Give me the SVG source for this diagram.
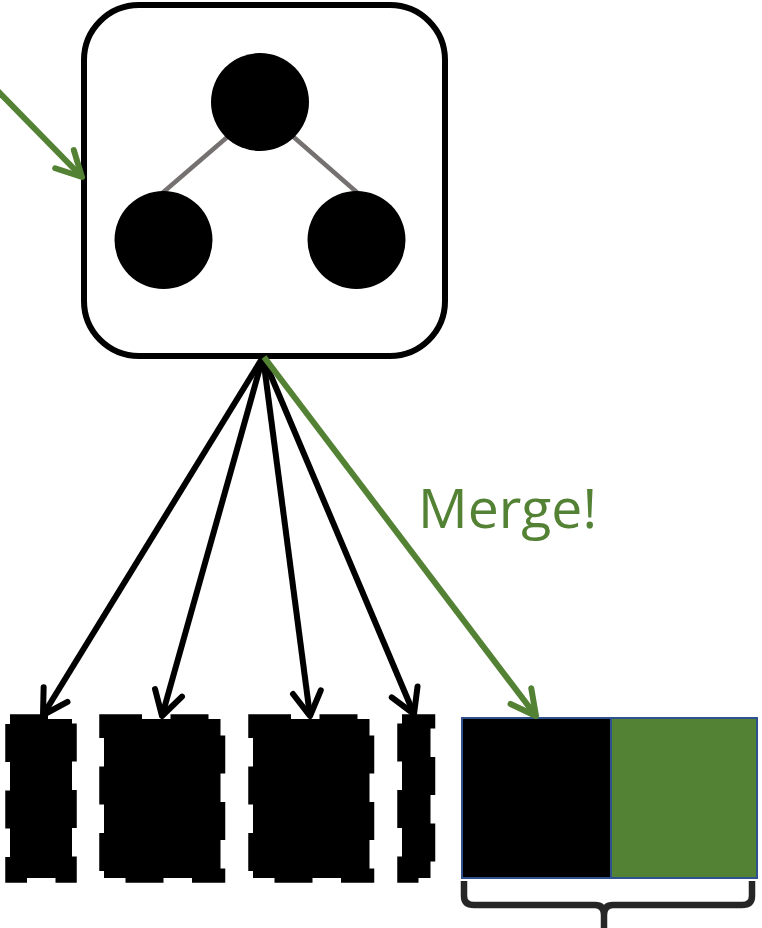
<svg xmlns="http://www.w3.org/2000/svg" width="762" height="928" viewBox="0 0 762 928">
  <style>
    .conn { fill: none; stroke-width: 6; }
    .black { stroke: #000000; }
    .green { stroke: #548235; }
    .edge { stroke: #767171; stroke-width: 4.5; }
    .leaf { fill: #000000; }
    .chunk { fill: #000000; stroke: #000000; stroke-width: 9.5; stroke-dasharray: 38 28.5; }
    .label { font-family: "Open Sans", "Noto Sans", "Liberation Sans", sans-serif; font-size: 54px; fill: #548235; }
  </style>
  <defs>
    <marker id="arrow-black" markerUnits="userSpaceOnUse" viewBox="-30 -20 36 40" refX="0" refY="0" markerWidth="36" markerHeight="40" orient="auto">
      <path d="M-24,-14 L0,0 L-24,14" fill="none" stroke="#000000" stroke-width="6" stroke-linecap="round" stroke-linejoin="round"/>
    </marker>
    <marker id="arrow-green" markerUnits="userSpaceOnUse" viewBox="-30 -20 36 40" refX="0" refY="0" markerWidth="36" markerHeight="40" orient="auto">
      <path d="M-25,-13 L0,0 L-25,13" fill="none" stroke="#548235" stroke-width="6" stroke-linecap="round" stroke-linejoin="round"/>
    </marker>
  </defs>

  <rect width="762" height="928" fill="#ffffff"/>

  <!-- tree node -->
  <g id="tree">
    <rect x="84" y="5" width="361" height="351" rx="55" ry="55" fill="#ffffff" stroke="#000000" stroke-width="6"/>
    <line class="edge" x1="232" y1="133" x2="160" y2="195"/>
    <line class="edge" x1="289" y1="133" x2="360" y2="195"/>
    <circle class="leaf" cx="260" cy="102" r="49"/>
    <circle class="leaf" cx="163.5" cy="240" r="49"/>
    <circle class="leaf" cx="356.5" cy="240" r="49"/>
  </g>

  <!-- dashed chunks -->
  <g id="chunk-1"><rect class="chunk" x="10" y="719" width="62" height="159"/></g>
  <g id="chunk-2"><rect class="chunk" x="104" y="719" width="116.5" height="159"/></g>
  <g id="chunk-3"><rect class="chunk" x="253" y="719" width="116.5" height="159"/></g>
  <g id="chunk-4"><rect class="chunk" x="402" y="719" width="28.5" height="159"/></g>

  <!-- merged chunk -->
  <g id="merged">
    <rect x="462" y="718" width="149" height="160" fill="#000000" stroke="#2F528F" stroke-width="2"/>
    <rect x="611" y="718" width="146" height="160" fill="#548235" stroke="#2F528F" stroke-width="2"/>
  </g>

  <!-- brace under merged chunk -->
  <g id="brace">
    <path d="M464,881 V896 Q464,905 474,905 H595 Q604,905 604,915 V928 M604,915 Q604,905 613,905 H742 Q752,905 752,896 V881" fill="none" stroke="#262626" stroke-width="6.5" stroke-linejoin="round"/>
  </g>

  <!-- connectors -->
  <g id="connectors">
    <line class="conn green" x1="-10" y1="83" x2="82" y2="177" marker-end="url(#arrow-green)"/>
    <line class="conn black" x1="263" y1="357" x2="43" y2="715" marker-end="url(#arrow-black)"/>
    <line class="conn black" x1="263" y1="357" x2="162" y2="716" marker-end="url(#arrow-black)"/>
    <line class="conn black" x1="263" y1="357" x2="310" y2="716" marker-end="url(#arrow-black)"/>
    <line class="conn black" x1="263" y1="357" x2="414" y2="714" marker-end="url(#arrow-black)"/>
    <line class="conn green" x1="264" y1="357" x2="536" y2="716" marker-end="url(#arrow-green)"/>
  </g>

  <text class="label" x="418" y="528" textLength="179" lengthAdjust="spacingAndGlyphs">Merge!</text>
</svg>
